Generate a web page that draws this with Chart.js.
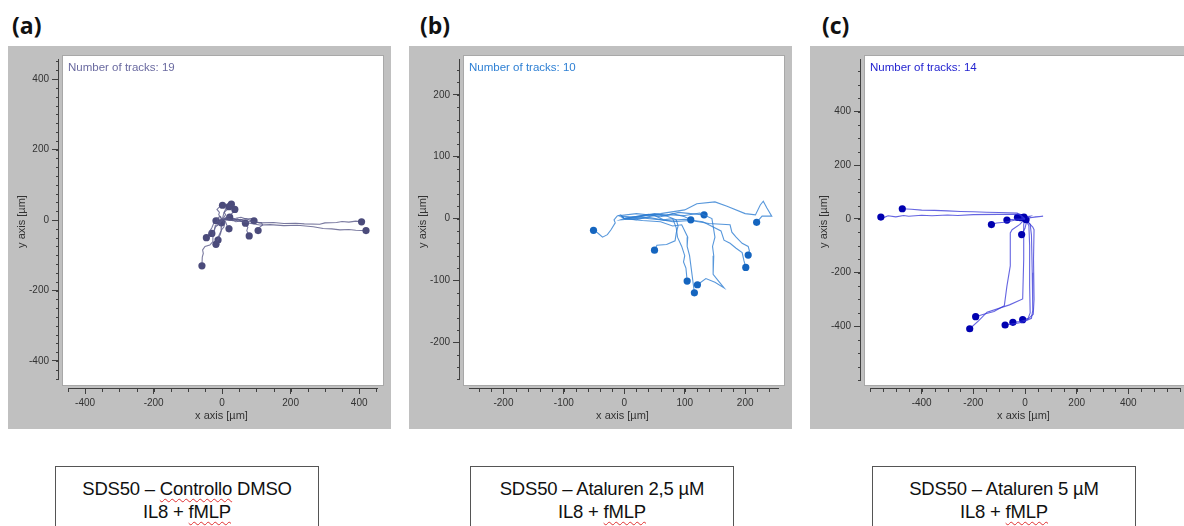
<!DOCTYPE html>
<html>
<head>
<meta charset="utf-8">
<script src="https://cdn.jsdelivr.net/npm/chart.js@4.4.0/dist/chart.umd.min.js"></script>
<style>
  body { margin: 0; width: 1184px; height: 526px; overflow: hidden; background: #fff; position: relative; }
  .panel { position: absolute; top: 46px; width: 383px; height: 383px; }
  .tag { position: absolute; top: 9px; font: bold 23px "Open Sans", "Liberation Sans", sans-serif; color: #111; }
  .box { position: absolute; top: 466px; width: 264px; height: 80px; border: 1px solid #555; box-sizing: border-box;
         font: 18.5px "Liberation Sans", sans-serif; color: #111; letter-spacing: -0.2px;
         text-align: center; line-height: 23px; padding-top: 10px; }
  .sp { text-decoration: underline wavy #e03030; text-decoration-thickness: 1px; text-underline-offset: 3px; }
</style>
</head>
<body>
<div class="tag" style="left:12px">(a)</div>
<div class="tag" style="left:420px">(b)</div>
<div class="tag" style="left:822px">(c)</div>
<canvas id="pa" class="panel" width="383" height="383" style="left:8px"></canvas>
<canvas id="pb" class="panel" width="383" height="383" style="left:409px"></canvas>
<canvas id="pc" class="panel" width="383" height="383" style="left:810px"></canvas>
<div class="box" style="left:55px">SDS50 – <span class="sp">Controllo</span> DMSO<br>IL8 + <span class="sp">fMLP</span></div>
<div class="box" style="left:470px">SDS50 – Ataluren 2,5 µM<br>IL8 + <span class="sp">fMLP</span></div>
<div class="box" style="left:872px">SDS50 – Ataluren 5 µM<br>IL8 + <span class="sp">fMLP</span></div>
<script>
// labelled ticks of each panel (same on x and y)
var ticksA = [-400, -200, 0, 200, 400];
var ticksB = [-200, -100, 0, 100, 200];
var ticksC = [-400, -200, 0, 200, 400];

// tracks: each one starts at the origin, the dot marks its end
var tracksA = [
  [[0,0],[12,4],[30,-2],[45,3],[60,-6],[85,-4],[110,-8],[150,-7],[180,-10],[215,-9],[240,-11],[285,-12],[300,-8],[334,-7],[350,-4],[370,-6],[390,-3],[407,-5]],
  [[0,0],[15,6],[40,-5],[60,-2],[80,-9],[110,-14],[140,-13],[180,-16],[220,-15],[266,-19],[295,-24],[320,-25],[344,-28],[370,-27],[390,-29],[420,-30]],
  [[0,0],[-10,-5],[-8,-12],[-20,-15],[-22,-28],[-27,-40],[-27,-61],[-36,-71],[-50,-75],[-57,-85],[-55,-95],[-58,-105],[-59,-130]],
  [[0,0],[-15,5],[-12,-4],[-25,-10],[-30,-22],[-35,-30],[-40,-42],[-46,-50]],
  [[0,0],[-6,-8],[-10,-12],[-20,-20],[-24,-30],[-30,-38]],
  [[0,0],[8,-8],[5,-20],[-2,-28],[-5,-40],[-12,-55],[-18,-69]],
  [[0,0],[-8,-10],[-2,-18],[-3,-30],[-10,-45],[-12,-57]],
  [[0,0],[-5,10],[-10,8],[-14,4],[-18,-2]],
  [[0,0],[8,-4],[4,-10],[-2,-8]],
  [[0,0],[-10,15],[-8,22],[-15,30],[-5,40],[1,42]],
  [[0,0],[10,15],[6,22],[15,30],[20,38]],
  [[0,0],[5,20],[12,35],[20,48],[27,45]],
  [[0,0],[15,10],[22,12],[30,20],[37,30]],
  [[0,0],[12,5],[18,2],[22,8]],
  [[0,0],[10,-5],[15,-18],[22,-16],[20,-25]],
  [[0,0],[30,5],[42,1],[55,2],[62,-4],[68,-9]],
  [[0,0],[30,2],[45,-2],[60,-5],[75,-20],[72,-30],[79,-45]],
  [[0,0],[40,5],[55,8],[70,3],[85,4],[93,-2]],
  [[0,0],[50,0],[70,4],[90,-5],[115,-8],[118,-14],[110,-20],[105,-30]]
];
var tracksB = [
  [[0,0],[-6,6],[-12,4],[-17,-2],[-15,-7],[-22,-18],[-28,-26],[-36,-30],[-42,-25],[-48,-20],[-51,-19]],
  [[0,0],[20,-2],[40,3],[55,6],[70,4],[86,-2],[89,-12],[86,-23],[84,-36],[70,-42],[54,-43],[50,-51]],
  [[0,0],[-5,5],[20,8],[50,5],[65,-2],[80,0],[86,-15],[88,-30],[95,-45],[100,-60],[98,-70],[102,-80],[104,-101]],
  [[0,0],[40,7],[100,5],[125,9],[145,0],[150,-30],[146,-45],[148,-60],[147,-90],[155,-100],[165,-112],[150,-103],[135,-97],[121,-107]],
  [[0,0],[30,-3],[60,-5],[80,-12],[95,-10],[105,-30],[104,-45],[108,-60],[112,-90],[114,-105],[116,-120]],
  [[0,0],[-8,4],[20,2],[40,6],[60,3],[80,8],[100,3],[110,-2]],
  [[0,0],[30,4],[50,8],[70,5],[90,10],[110,8],[132,6]],
  [[0,0],[30,5],[60,8],[100,14],[120,24],[150,27],[170,20],[200,8],[217,6],[225,22],[230,28],[236,17],[244,4],[228,4],[219,-6]],
  [[0,0],[40,2],[80,-5],[110,-3],[140,-8],[175,-10],[178,-22],[185,-30],[195,-40],[205,-45],[207,-52],[205,-59]],
  [[0,0],[-6,-2],[30,1],[70,-3],[100,-1],[130,-5],[160,-20],[165,-35],[175,-40],[185,-48],[195,-55],[198,-68],[201,-79]]
];
var tracksC = [
  [[0,0],[-20,18],[-100,17],[-200,16],[-260,13],[-300,15],[-360,12],[-400,14],[-450,10],[-470,13],[-500,8],[-530,12],[-545,6],[-558,7]],
  [[0,0],[-30,22],[-100,24],[-150,25],[-200,27],[-250,28],[-300,30],[-350,32],[-400,33],[-440,36],[-475,38]],
  [[0,0],[-40,-5],[-80,-12],[-110,-15],[-130,-21]],
  [[0,0],[-30,0],[-50,-2],[-70,-4]],
  [[0,0],[-15,5],[-29,6]],
  [[0,0],[20,10],[-4,7]],
  [[0,0],[40,8],[70,10],[20,5],[4,-3]],
  [[0,0],[5,-15],[0,-35],[-13,-58]],
  [[0,0],[-20,-20],[-50,-40],[-57,-52],[-57,-175],[-70,-250],[-80,-323],[-120,-345],[-160,-355],[-191,-364]],
  [[0,0],[-5,-20],[-4,-52],[-6,-150],[-9,-298],[-60,-320],[-147,-347],[-180,-380],[-214,-409]],
  [[0,0],[20,-20],[25,-60],[28,-200],[30,-340],[25,-370],[-10,-385],[-40,-390],[-77,-395]],
  [[0,0],[15,-25],[18,-100],[18,-250],[20,-350],[10,-375],[-20,-382],[-47,-385]],
  [[0,0],[30,-30],[35,-40],[33,-150],[35,-300],[32,-355],[15,-370],[-9,-375]],
  [[0,0],[-8,8],[-15,5]]
];

// plot box inside each canvas
var AX_LEFT = 51, AX_BOTTOM = 342, PAD_TOP = 8, PAD_RIGHT = 7;

function range(lo, hi, len, padLo, padHi) {
  var k = (hi - lo) / len;
  return { min: lo - padLo * k, max: hi + padHi * k };
}

var frame = {
  id: 'frame',
  beforeDraw: function (chart) {
    var c = chart.ctx, a = chart.chartArea;
    c.save();
    c.fillStyle = '#c0c0c0';
    c.fillRect(0, 0, chart.width, chart.height);
    c.fillStyle = '#fff';
    c.fillRect(a.left + 3, a.top, a.right - a.left - 3, a.bottom - a.top - 2);
    c.strokeStyle = '#a8a8a8';
    c.strokeRect(a.left + 3.5, a.top + 0.5, a.right - a.left - 4, a.bottom - a.top - 3);
    c.restore();
  },
  afterDraw: function (chart, args, o) {
    var c = chart.ctx, a = chart.chartArea, xs = chart.scales.x, ys = chart.scales.y, v;
    c.save();
    c.strokeStyle = '#404040';
    c.lineWidth = 1;
    c.beginPath();
    c.moveTo(a.left - 0.5, ys.getPixelForValue(o.yLim[1]));
    c.lineTo(a.left - 0.5, ys.getPixelForValue(o.yLim[0]));
    c.moveTo(xs.getPixelForValue(o.xLim[0]), a.bottom + 0.5);
    c.lineTo(xs.getPixelForValue(o.xLim[1]), a.bottom + 0.5);
    for (v = Math.ceil(o.yLim[0] / o.yMinor) * o.yMinor; v <= o.yLim[1]; v += o.yMinor) {
      var py = Math.round(ys.getPixelForValue(v)) + 0.5;
      c.moveTo(a.left - 3, py); c.lineTo(a.left, py);
    }
    for (v = Math.ceil(o.xLim[0] / o.xMinor) * o.xMinor; v <= o.xLim[1]; v += o.xMinor) {
      var px = Math.round(xs.getPixelForValue(v)) + 0.5;
      c.moveTo(px, a.bottom); c.lineTo(px, a.bottom + 4);
    }
    c.stroke();
    c.fillStyle = o.textColor;
    c.font = '11.5px "Liberation Sans", Arial, sans-serif';
    c.textBaseline = 'middle';
    c.fillText('Number of tracks: ' + o.count, a.left + 9, a.top + 13);
    c.restore();
  }
};

function makePanel(id, tracks, tickVals, lineColor, dotColor, textColor, xLim, yLim, xMinor, yMinor) {
  var xr = range(xLim[0], xLim[1], 310, 9, 6);
  var yr = range(yLim[0], yLim[1], 322, 8, 4);
  var datasets = tracks.map(function (t) {
    return {
      data: t.map(function (p) { return { x: p[0], y: p[1] }; }),
      showLine: true,
      borderColor: lineColor,
      borderWidth: 1.1,
      pointRadius: function (ctx) { return ctx.dataIndex === t.length - 1 ? 3.6 : 0; },
      pointBackgroundColor: dotColor,
      pointBorderWidth: 0
    };
  });
  var setTicks = function (s) { s.ticks = tickVals.map(function (v) { return { value: v }; }); };
  var axisFont = { family: '"Liberation Sans", Arial, sans-serif', size: 10 };
  var titleFont = { family: '"Liberation Sans", Arial, sans-serif', size: 11 };
  new Chart(document.getElementById(id), {
    type: 'scatter',
    data: { datasets: datasets },
    plugins: [frame],
    options: {
      responsive: false,
      animation: false,
      layout: { padding: { left: 0, top: PAD_TOP, right: PAD_RIGHT, bottom: 0 } },
      plugins: {
        legend: { display: false },
        tooltip: { enabled: false },
        frame: { count: tracks.length, textColor: textColor, xLim: xLim, yLim: yLim, xMinor: xMinor, yMinor: yMinor }
      },
      scales: {
        x: {
          type: 'linear', min: xr.min, max: xr.max,
          afterBuildTicks: setTicks,
          border: { display: false },
          grid: { drawOnChartArea: false, color: '#404040', tickLength: 6 },
          ticks: { color: '#333', font: axisFont, padding: 3, maxRotation: 0, autoSkip: false },
          title: { display: true, text: 'x axis [µm]', color: '#333', font: titleFont, padding: { top: 0, bottom: 6 } },
          afterFit: function (s) { s.height = 383 - AX_BOTTOM; }
        },
        y: {
          type: 'linear', min: yr.min, max: yr.max,
          afterBuildTicks: setTicks,
          border: { display: false },
          grid: { drawOnChartArea: false, color: '#404040', tickLength: 7 },
          ticks: { color: '#333', font: axisFont, padding: 3, autoSkip: false },
          title: { display: true, text: 'y axis [µm]', color: '#333', font: titleFont, padding: { top: 7, bottom: 0 } },
          afterFit: function (s) { s.width = AX_LEFT; }
        }
      }
    }
  });
}

makePanel('pa', tracksA, ticksA, 'rgba(88,88,135,0.8)', '#4b4b7b', '#6a6aa0', [-450, 455], [-454, 457], 50, 25);
makePanel('pb', tracksB, ticksB, 'rgba(45,125,210,0.8)', '#1565bf', '#2f80d4', [-257, 256], [-261, 258], 20, 20);
makePanel('pc', tracksC, ticksC, 'rgba(50,50,215,0.75)', '#0000b0', '#2424d0', [-600, 600], [-600, 596], 50, 50);
</script>
</body>
</html>
